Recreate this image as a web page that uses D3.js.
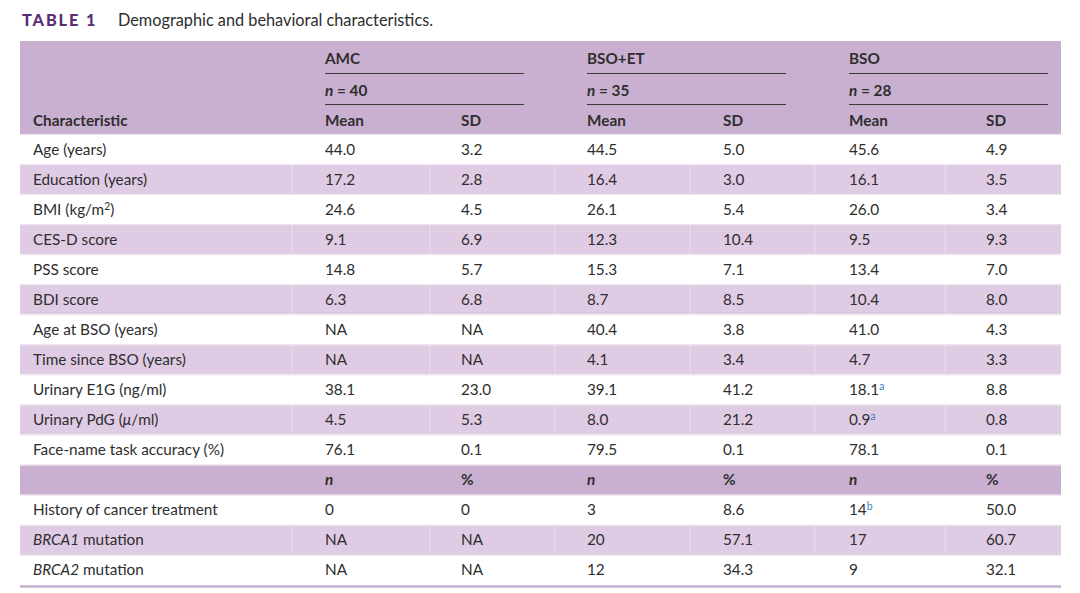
<!DOCTYPE html>
<html>
<head>
<meta charset="utf-8">
<script src="https://cdn.jsdelivr.net/npm/d3@7"></script>
<style>
  body { margin: 0; background: #fff; }
  svg { font-family: Lato, "Open Sans", sans-serif; }
</style>
</head>
<body>
<svg id="chart" width="1080" height="593"></svg>
<script>
  // groups and their sizes
  const groups = ["AMC", "BSO+ET", "BSO"];
  const groupN = [40, 35, 28];

  // continuous rows (mean / SD)
  const rowLabels = ["Age (years)", "Education (years)", "BMI (kg/m2)", "CES-D score", "PSS score",
      "BDI score", "Age at BSO (years)", "Time since BSO (years)", "Urinary E1G (ng/ml)",
      "Urinary PdG (μ/ml)", "Face-name task accuracy (%)"];
  const amcMean = ["44.0", "17.2", "24.6", "9.1", "14.8", "6.3", "NA", "NA", "38.1", "4.5", "76.1"];
  const amcSD   = ["3.2", "2.8", "4.5", "6.9", "5.7", "6.8", "NA", "NA", "23.0", "5.3", "0.1"];
  const etMean  = ["44.5", "16.4", "26.1", "12.3", "15.3", "8.7", "40.4", "4.1", "39.1", "8.0", "79.5"];
  const etSD    = ["5.0", "3.0", "5.4", "10.4", "7.1", "8.5", "3.8", "3.4", "41.2", "21.2", "0.1"];
  const bsoMean = ["45.6", "16.1", "26.0", "9.5", "13.4", "10.4", "41.0", "4.7", "18.1^a", "0.9^a", "78.1"];
  const bsoSD   = ["4.9", "3.5", "3.4", "9.3", "7.0", "8.0", "4.3", "3.3", "8.8", "0.8", "0.1"];

  // count rows (n / %)
  const countLabels = ["History of cancer treatment", "BRCA1 mutation", "BRCA2 mutation"];
  const amcN   = ["0", "NA", "NA"];
  const amcPct = ["0", "NA", "NA"];
  const etN    = ["3", "20", "12"];
  const etPct  = ["8.6", "57.1", "34.3"];
  const bsoN   = ["14^b", "17", "9"];
  const bsoPct = ["50.0", "60.7", "32.1"];

  const svg = d3.select("#chart");
  const textCol = "#2e2e2e";
  const headCol = "#cab0d0";
  const stripeCol = "#e0cbe4";
  const fs = 15.3;

  // title
  const title = svg.append("text").attr("x", 22).attr("y", 26).attr("font-size", 16.3);
  title.append("tspan").attr("font-weight", 900).attr("fill", "#5b2d72")
      .attr("letter-spacing", 1.9).text("TABLE 1");
  title.append("tspan").attr("x", 118).attr("fill", textCol).text("Demographic and behavioral characteristics.");

  const left = 20, right = 1061;
  const headTop = 41, headBottom = 134;

  // build row list
  const rows = [];
  rowLabels.forEach((l, i) => rows.push({label: l, type: "data",
      cells: [amcMean[i], amcSD[i], etMean[i], etSD[i], bsoMean[i], bsoSD[i]]}));
  rows.push({label: "", type: "sub", cells: ["n", "%", "n", "%", "n", "%"]});
  countLabels.forEach((l, i) => rows.push({label: l, type: "data",
      cells: [amcN[i], amcPct[i], etN[i], etPct[i], bsoN[i], bsoPct[i]]}));

  const y = d3.scaleBand().domain(d3.range(rows.length)).range([headBottom, 585]);
  const colX = d3.scaleOrdinal().domain(d3.range(6)).range([325, 461, 587, 723, 849, 986]);
  const groupX = d3.scaleOrdinal().domain(d3.range(3)).range([325, 587, 849]);
  const groupW = 199;
  const cellLines = [292, 430, 555, 690, 815, 945];

  // header background
  svg.append("rect").attr("x", left).attr("y", headTop).attr("width", right - left)
      .attr("height", headBottom - headTop).attr("fill", headCol);

  // row backgrounds
  const rg = svg.append("g");
  rg.selectAll("rect").data(rows).join("rect")
      .attr("x", left).attr("y", (d, i) => y(i)).attr("width", right - left).attr("height", y.bandwidth())
      .attr("fill", (d, i) => d.type === "sub" ? headCol : (i % 2 === 1 ? stripeCol : "#fff"));
  // faint cell separators
  rows.forEach((d, i) => {
    if (d.type === "sub" || i % 2 === 0) return;
    rg.selectAll(null).data(cellLines).join("line")
        .attr("x1", d => d).attr("x2", d => d)
        .attr("y1", y(i) + 1).attr("y2", y(i) + y.bandwidth() - 1)
        .attr("stroke", "#ebdfee").attr("stroke-width", 1);
  });
  rg.selectAll("line.sep").data(d3.range(rows.length + 1)).join("line").attr("class", "sep")
      .attr("x1", left).attr("x2", right)
      .attr("y1", i => (i === rows.length ? 585 : y(i)) + 0.5).attr("y2", i => (i === rows.length ? 585 : y(i)) + 0.5)
      .attr("stroke", "#efe6f0").attr("stroke-width", 1);
  // bottom rule
  svg.append("line").attr("x1", left).attr("x2", right).attr("y1", 586.5).attr("y2", 586.5)
      .attr("stroke", headCol).attr("stroke-width", 2.5);

  // header texts
  const hg = svg.append("g").attr("font-size", fs).attr("fill", textCol);
  hg.selectAll("text.grp").data(groups).join("text").attr("class", "grp")
      .attr("x", (d, i) => groupX(i)).attr("y", 63.5).attr("font-weight", 700).text(d => d);
  hg.selectAll("line.r1").data(groups).join("line").attr("class", "r1")
      .attr("x1", (d, i) => groupX(i)).attr("x2", (d, i) => groupX(i) + groupW)
      .attr("y1", 73.5).attr("y2", 73.5).attr("stroke", "#3a3a3a").attr("stroke-width", 1.2);
  const nt = hg.selectAll("text.n").data(groupN).join("text").attr("class", "n")
      .attr("x", (d, i) => groupX(i)).attr("y", 95.5).attr("font-weight", 700);
  nt.append("tspan").attr("font-style", "italic").text("n");
  nt.append("tspan").text(d => " = " + d);
  hg.selectAll("line.r2").data(groups).join("line").attr("class", "r2")
      .attr("x1", (d, i) => groupX(i)).attr("x2", (d, i) => groupX(i) + groupW)
      .attr("y1", 104.5).attr("y2", 104.5).attr("stroke", "#3a3a3a").attr("stroke-width", 1.2);
  hg.append("text").attr("x", 33).attr("y", 126).attr("font-weight", 700).text("Characteristic");
  hg.selectAll("text.ms").data(d3.range(6)).join("text").attr("class", "ms")
      .attr("x", i => colX(i)).attr("y", 126).attr("font-weight", 700)
      .text(i => i % 2 === 0 ? "Mean" : "SD");

  // label with special formatting
  function drawLabel(sel, label) {
    if (label === "BMI (kg/m2)") {
      sel.append("tspan").text("BMI (kg/m");
      sel.append("tspan").attr("font-size", 10.5).attr("dy", -5).text("2");
      sel.append("tspan").attr("dy", 5).text(")");
    } else if (label.startsWith("BRCA")) {
      const [g, rest] = [label.slice(0, 5), label.slice(5)];
      sel.append("tspan").attr("font-style", "italic").text(g);
      sel.append("tspan").text(rest);
    } else if (label.includes("μ")) {
      const k = label.indexOf("μ");
      sel.append("tspan").text(label.slice(0, k));
      sel.append("tspan").attr("font-style", "italic").text("μ");
      sel.append("tspan").text(label.slice(k + 1));
    } else {
      sel.text(label);
    }
  }

  function drawCell(sel, v, sub) {
    if (sub) {
      sel.attr("font-weight", 700);
      if (v === "n") sel.attr("font-style", "italic");
      sel.text(v);
      return;
    }
    const parts = v.split("^");
    sel.append("tspan").text(parts[0]);
    if (parts[1]) {
      sel.append("tspan").attr("font-size", 10.5).attr("dy", -5).attr("fill", "#3b7cc4").text(parts[1]);
    }
  }

  const bg = svg.append("g").attr("font-size", fs).attr("fill", textCol);
  rows.forEach((r, i) => {
    const base = y(i) + y.bandwidth() / 2 + 5.5;
    if (r.label) drawLabel(bg.append("text").attr("x", 33).attr("y", base), r.label);
    r.cells.forEach((c, j) => {
      drawCell(bg.append("text").attr("x", colX(j)).attr("y", base), c, r.type === "sub");
    });
  });
</script>
</body>
</html>
